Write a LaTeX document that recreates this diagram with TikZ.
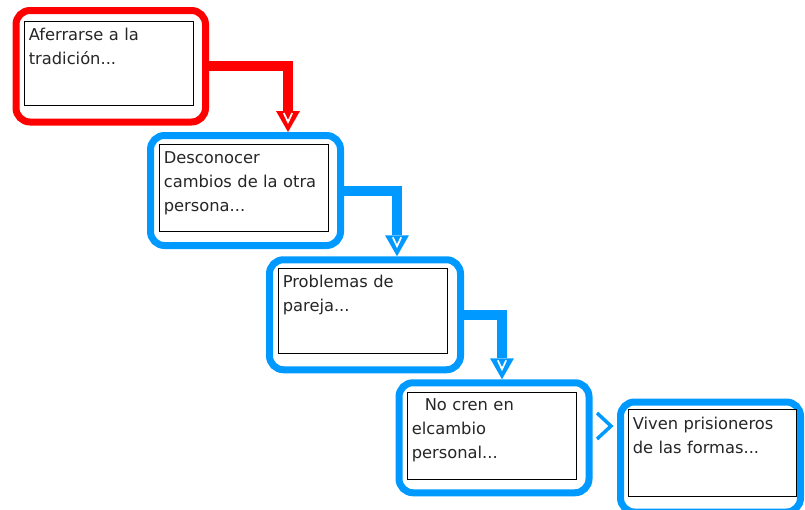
\documentclass[tikz,border=0pt]{standalone}
\usepackage{fontspec}
\setmainfont{DejaVu Sans}
\usetikzlibrary{arrows.meta}
\definecolor{rojo}{HTML}{FF0000}
\definecolor{azul}{HTML}{0099FF}
\tikzset{
  caja/.style={draw,line width=7pt,rounded corners=14pt,minimum width=190pt,minimum height=110pt,inner sep=0pt},
  marco/.style={draw,fill=white,line width=0.8pt,minimum width=169pt,minimum height=86pt,inner sep=0pt},
  texto/.style={anchor=base west,inner sep=0pt,text width=165pt,align=left,text=black!85,font=\fontsize{16.3}{24}\selectfont},
  flecha/.style={line width=10pt,-{Triangle[width=24pt,length=21pt,line width=0pt]}},
  muesca/.pic={\draw[white,line width=1.7pt] (-4.2,-19)--(0,-10)--(4.2,-19);}
}
\begin{document}
\begin{tikzpicture}[x=1pt,y=-1pt]
	\useasboundingbox (0,0) rectangle (805,509);
	% cajas de fuera
	\node[caja,rojo,minimum width=189.5pt,minimum height=111.5pt] (b1) at (110.75,66.25) {};
	\node[caja,azul] (b2) at (245.5,190.5) {};
	\node[caja,azul,minimum width=191pt] (b3) at (365,314.75) {};
	\node[caja,azul] (b4) at (494,437.75) {};
	\node[caja,azul,minimum width=180pt] (b5) at (710.5,457) {};
	% marcos y textos
	\node[marco,minimum height=84pt] (m1) at (108.5,63) {};
	\node[marco,minimum height=87pt] (m2) at (243.5,187.5) {};
	\node[marco,minimum height=85pt] (m3) at (362.5,310.5) {};
	\node[marco,minimum height=87pt] (m4) at (491.5,435.5) {};
	\node[marco,minimum width=168pt,minimum height=87pt] (m5) at (712,452.5) {};
	\node[texto] (t1) at ([shift={(5,19.8)}]m1.north west) {Aferrarse a la\\tradición...};
	\node[texto] (t2) at ([shift={(5,19.5)}]m2.north west) {Desconocer\\cambios de la otra\\persona...};
	\node[texto] (t3) at ([shift={(5,20)}]m3.north west) {Problemas de\\pareja...};
	\node[texto] (t4) at ([shift={(5,19)}]m4.north west) {\hspace*{13pt}No cren en\\elcambio\\personal...};
	\node[texto] (t5) at ([shift={(5,21)}]m5.north west) {Viven prisioneros\\de las formas...};
	% flechas
	\coordinate (k1) at ([xshift=42.5pt]b2.north);
	\coordinate (k2) at ([xshift=32pt]b3.north);
	\coordinate (k3) at ([xshift=8pt]b4.north);
	\draw[flecha,rojo] (b1.east) -| (k1);
	\draw[flecha,azul] (b2.east) -| (k2);
	\draw[flecha,azul] (b3.east) -| (k3);
	\pic at (k1) {muesca};
	\pic at (k2) {muesca};
	\pic at (k3) {muesca};
	\draw[azul,line width=3.5pt] ([shift={(4.5,-24.75)}]b4.east)--([shift={(18.5,-11.75)}]b4.east)--([shift={(4.5,1.25)}]b4.east);
\end{tikzpicture}
\end{document}
